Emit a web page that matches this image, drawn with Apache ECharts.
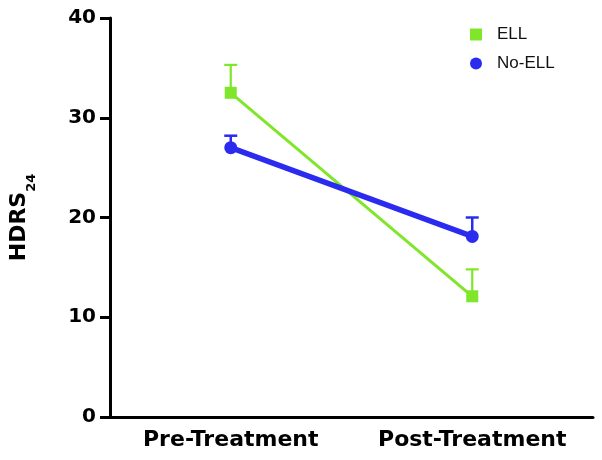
<!DOCTYPE html>
<html>
<head>
<meta charset="utf-8">
<script src="https://cdn.jsdelivr.net/npm/echarts@6/dist/echarts.min.js"></script>
<style>html,body{margin:0;padding:0;background:#fff}#chart{width:602px;height:460px}</style>
</head>
<body>
<div id="chart"></div>
<script>
const categories = ['Pre-Treatment', 'Post-Treatment'];
const ellMean = [32.5, 12.1];
const ellErr = [2.8, 2.7];
const noEllMean = [27.0, 18.1];
const noEllErr = [1.2, 1.9];
const yTicks = [0, 10, 20, 30, 40];

const GREEN = '#7fe62a';
const BLUE = '#2b2bef';
const FONT = 'DejaVu Sans';

function errData(mean, err) {
  return mean.map((m, i) => [i, m, m + err[i]]);
}
function errRender(color, lw) {
  return function (params, api) {
    const x = api.value(0), y = api.value(1), t = api.value(2);
    const p0 = api.coord([x, y]);
    const p1 = api.coord([x, t]);
    const st = { stroke: color, lineWidth: lw };
    return {
      type: 'group',
      children: [
        { type: 'line', shape: { x1: p0[0], y1: p0[1], x2: p1[0], y2: p1[1] }, style: st },
        { type: 'line', shape: { x1: p1[0] - 6.5, y1: p1[1], x2: p1[0] + 6.5, y2: p1[1] }, style: st }
      ]
    };
  };
}

const chart = echarts.init(document.getElementById('chart'));
chart.setOption({
  animation: false,
  backgroundColor: '#fff',
  grid: { left: 105, right: 9, top: 18, bottom: 43 },
  legend: {
    orient: 'vertical',
    left: 465,
    top: 21,
    itemWidth: 12,
    itemHeight: 12,
    itemGap: 12,
    data: [{ name: 'ELL', icon: 'rect' }, { name: 'No-ELL', icon: 'circle' }],
    textStyle: { fontFamily: 'Liberation Sans', fontSize: 17, color: '#111', lineHeight: 16, padding: [0, 0, 0, 10] }
  },
  xAxis: {
    type: 'category',
    data: categories,
    boundaryGap: true,
    axisLine: { lineStyle: { color: '#000', width: 3 } },
    axisTick: { alignWithLabel: true, length: 10, lineStyle: { color: '#000', width: 3 } },
    axisLabel: { interval: 0, hideOverlap: false, color: '#000', fontFamily: FONT, fontWeight: 'bold', fontSize: 22, margin: 12 },
    splitLine: { show: false }
  },
  yAxis: {
    type: 'value',
    min: yTicks[0],
    max: yTicks[yTicks.length - 1],
    interval: 10,
    name: '{a|HDRS}{b|24}',
    nameLocation: 'middle',
    nameGap: 72,
    nameTextStyle: {
      rich: {
        a: { fontFamily: FONT, fontWeight: 'bold', fontSize: 22, color: '#000', lineHeight: 30, verticalAlign: 'top' },
        b: { fontFamily: FONT, fontWeight: 'bold', fontSize: 13, color: '#000', lineHeight: 13, verticalAlign: 'bottom' }
      }
    },
    axisLine: { show: true, lineStyle: { color: '#000', width: 3 } },
    axisTick: { show: true, length: 10, lineStyle: { color: '#000', width: 3 } },
    axisLabel: { color: '#000', fontFamily: FONT, fontWeight: 'bold', fontSize: 20, margin: 14 },
    splitLine: { show: false }
  },
  series: [
    {
      name: 'ELL err', type: 'custom', renderItem: errRender(GREEN, 2.2),
      data: errData(ellMean, ellErr), z: 1, silent: true
    },
    {
      name: 'No-ELL err', type: 'custom', renderItem: errRender(BLUE, 2.5),
      data: errData(noEllMean, noEllErr), z: 1, silent: true
    },
    {
      name: 'ELL', type: 'line', data: ellMean, color: GREEN,
      symbol: 'rect', symbolSize: 12, showAllSymbol: true,
      lineStyle: { width: 3, color: GREEN }, itemStyle: { color: GREEN }, z: 3
    },
    {
      name: 'No-ELL', type: 'line', data: noEllMean, color: BLUE,
      symbol: 'circle', symbolSize: 13, showAllSymbol: true,
      lineStyle: { width: 5.5, color: BLUE }, itemStyle: { color: BLUE }, z: 4
    }
  ]
});
</script>
</body>
</html>
